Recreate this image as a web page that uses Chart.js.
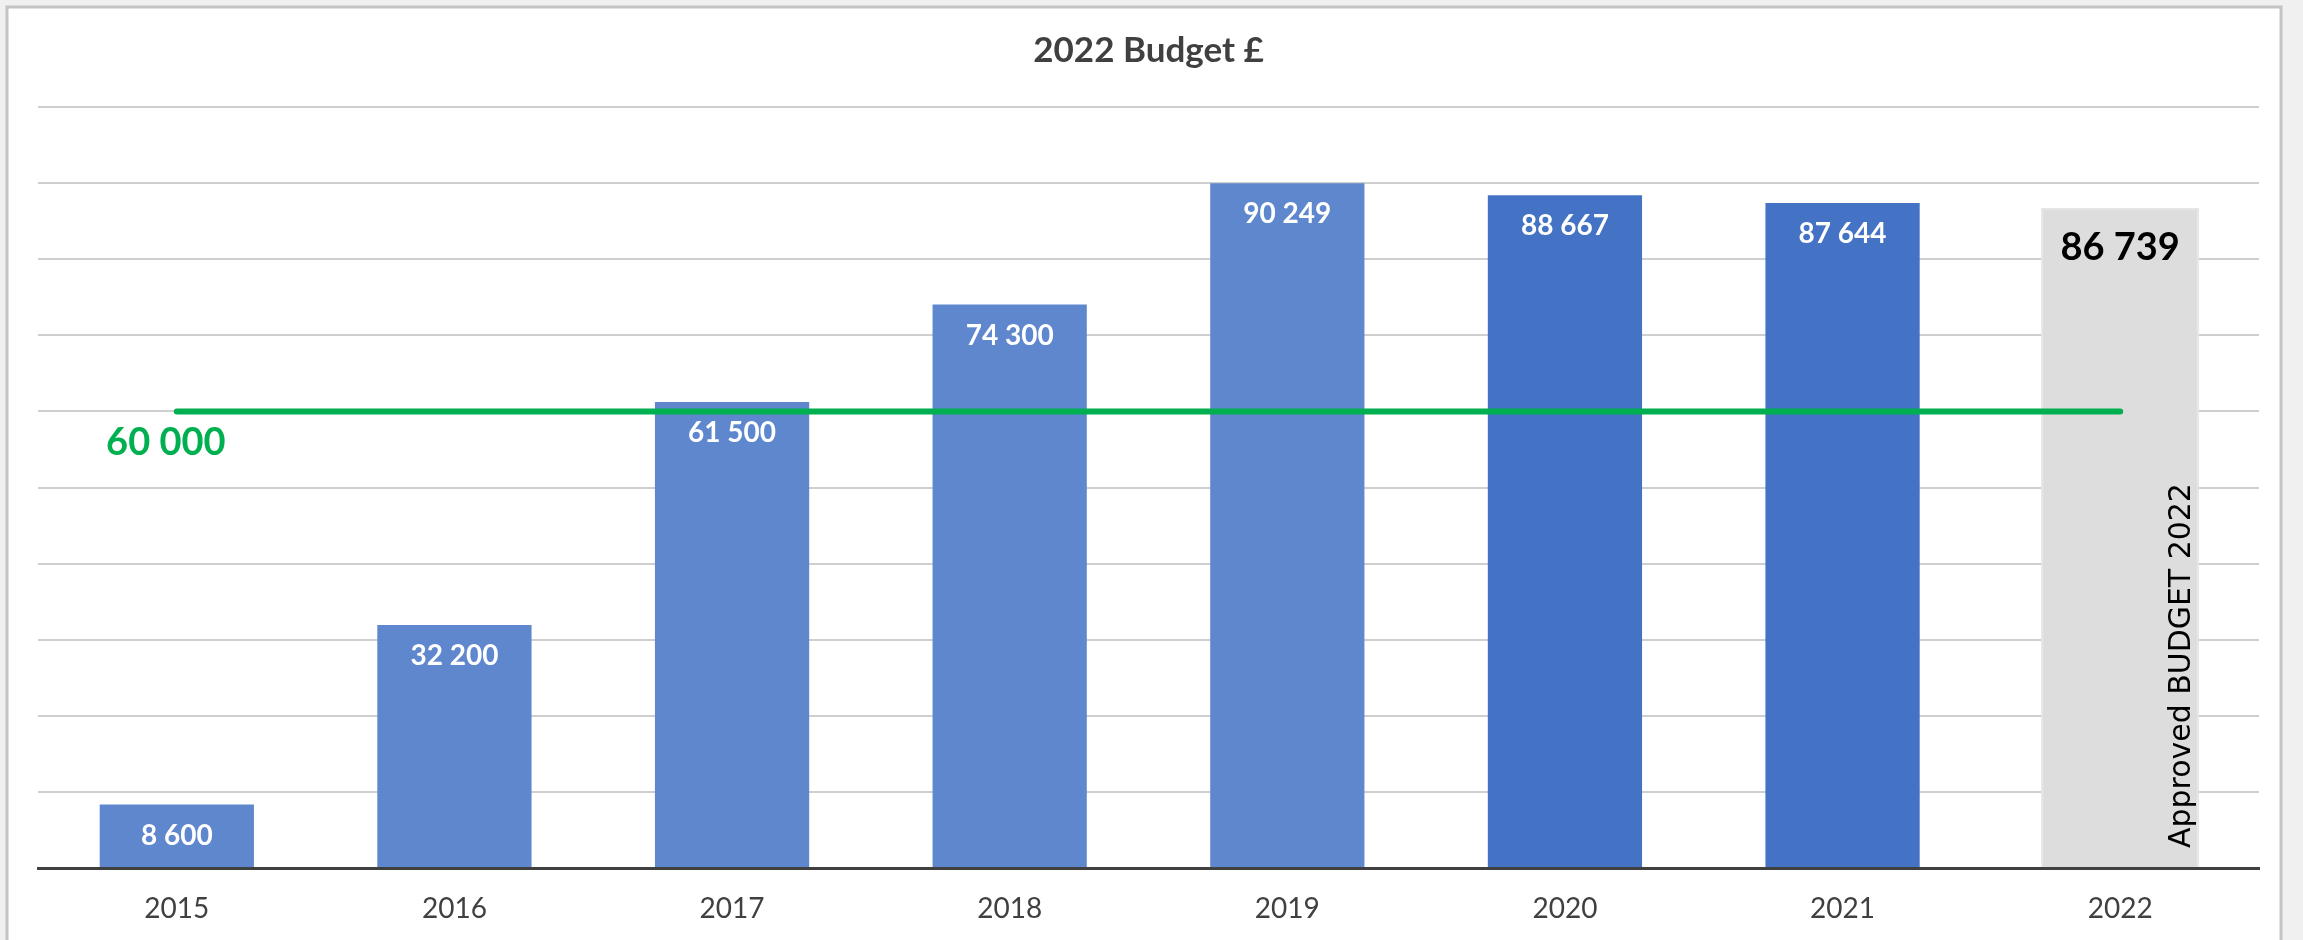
<!DOCTYPE html>
<html>
<head>
<meta charset="utf-8">
<script src="https://cdn.jsdelivr.net/npm/chart.js@4/dist/chart.umd.min.js"></script>
<style>
  html, body { margin: 0; padding: 0; background: #f0f0f0; }
  #wrap { width: 2303px; height: 940px; position: relative; }
</style>
</head>
<body>
<div id="wrap"><canvas id="budgetChart" width="2303" height="940"></canvas></div>
<script>
const years = ["2015", "2016", "2017", "2018", "2019", "2020", "2021", "2022"];
const budget = [8600, 32200, 61500, 74300, 90249, 88667, 87644, 86739];
const threshold = [60000, 60000, 60000, 60000, 60000, 60000, 60000, 60000];
const thresholdLabel = "60 000";
const approvedNote = "Approved BUDGET 2022";
const chartTitle = "2022 Budget £";

const FONT = "Lato, 'Open Sans', sans-serif";

function fmt(n) {
  return String(n).replace(/\B(?=(\d{3})+(?!\d))/g, " ");
}

// white frame around the chart, light grey outside
const framePlugin = {
  id: "frame",
  beforeDraw(chart) {
    const ctx = chart.ctx;
    ctx.save();
    ctx.fillStyle = "#f0f0f0";
    ctx.fillRect(0, 0, chart.width, chart.height);
    ctx.fillStyle = "#ffffff";
    ctx.fillRect(7, 7, 2274, chart.height);
    ctx.strokeStyle = "#c4c4c4";
    ctx.lineWidth = 3;
    ctx.strokeRect(7, 7, 2274, chart.height + 10);
    ctx.restore();
  },
};

const labelsPlugin = {
  id: "barLabels",
  afterDatasetsDraw(chart) {
    const ctx = chart.ctx;
    const bars = chart.getDatasetMeta(0).data;
    ctx.save();
    ctx.textAlign = "center";
    ctx.textBaseline = "middle";
    bars.forEach((bar, i) => {
      const last = i === bars.length - 1;
      if (last) {
        ctx.fillStyle = "#000000";
        ctx.font = "bold 38px " + FONT;
        ctx.fillText(fmt(budget[i]), bar.x, bar.y + 40);
      } else {
        ctx.fillStyle = "#ffffff";
        ctx.font = "bold 28px " + FONT;
        ctx.fillText(fmt(budget[i]), bar.x, bar.y + 33);
      }
    });

    // rotated note on the last bar
    const lastBar = bars[bars.length - 1];
    const base = chart.scales.y.getPixelForValue(0);
    ctx.font = "30px 'DejaVu Sans', sans-serif";
    const w = ctx.measureText(approvedNote).width;
    const size = 30 * 365 / w;
    ctx.font = size + "px 'DejaVu Sans', sans-serif";
    ctx.translate(lastBar.x + 62, base - 20);
    ctx.rotate(-Math.PI / 2);
    ctx.textAlign = "left";
    ctx.fillStyle = "#000000";
    ctx.fillText(approvedNote, 0, 0);
    ctx.restore();

    // threshold label under the start of the green line
    const pt = chart.getDatasetMeta(1).data[0];
    ctx.save();
    ctx.fillStyle = "#00b050";
    ctx.font = "bold 38px " + FONT;
    ctx.textAlign = "center";
    ctx.textBaseline = "middle";
    ctx.fillText(thresholdLabel, pt.x - 11, pt.y + 31);
    ctx.restore();
  },
};

new Chart(document.getElementById("budgetChart"), {
  data: {
    labels: years,
    datasets: [
      {
        type: "bar",
        label: "Budget",
        data: budget,
        backgroundColor: (c) => {
          const y = Number(years[c.dataIndex]);
          if (y === 2022) return "#dddddd";
          if (y >= 2020) return "#4472c4";
          return "#5f87cd";
        },
        borderColor: (c) => (Number(years[c.dataIndex]) === 2022 ? "#e6e6e6" : "rgba(0,0,0,0)"),
        borderWidth: 2,
        borderSkipped: "bottom",
        barPercentage: 0.57,
        categoryPercentage: 1,
        order: 2,
      },
      {
        type: "line",
        label: "Threshold",
        data: threshold,
        borderColor: "#00b050",
        borderWidth: 6,
        borderCapStyle: "round",
        pointRadius: 0,
        fill: false,
        order: 1,
      },
    ],
  },
  options: {
    responsive: false,
    animation: false,
    devicePixelRatio: 1,
    layout: {
      padding: { left: 38, right: 44, top: 0, bottom: 0 },
    },
    plugins: {
      legend: { display: false },
      tooltip: { enabled: false },
      title: {
        display: true,
        text: chartTitle,
        color: "#404040",
        font: { family: FONT, size: 35, weight: "bold" },
        padding: { top: 30, bottom: 35 },
      },
    },
    scales: {
      x: {
        offset: true,
        grid: { display: false, drawTicks: false },
        border: { display: true, color: "#404040", width: 3 },
        ticks: {
          color: "#404040",
          padding: 24,
          font: { family: FONT, size: 28 },
        },
        afterFit: (s) => {
          s.height = 72;
        },
      },
      y: {
        min: 0,
        max: 100000,
        ticks: { display: false, stepSize: 10000 },
        border: { display: false },
        grid: { color: "#cfcfcf", lineWidth: 2, drawTicks: false },
        afterFit: (s) => {
          s.width = 0;
        },
      },
    },
  },
  plugins: [framePlugin, labelsPlugin],
});
</script>
</body>
</html>
